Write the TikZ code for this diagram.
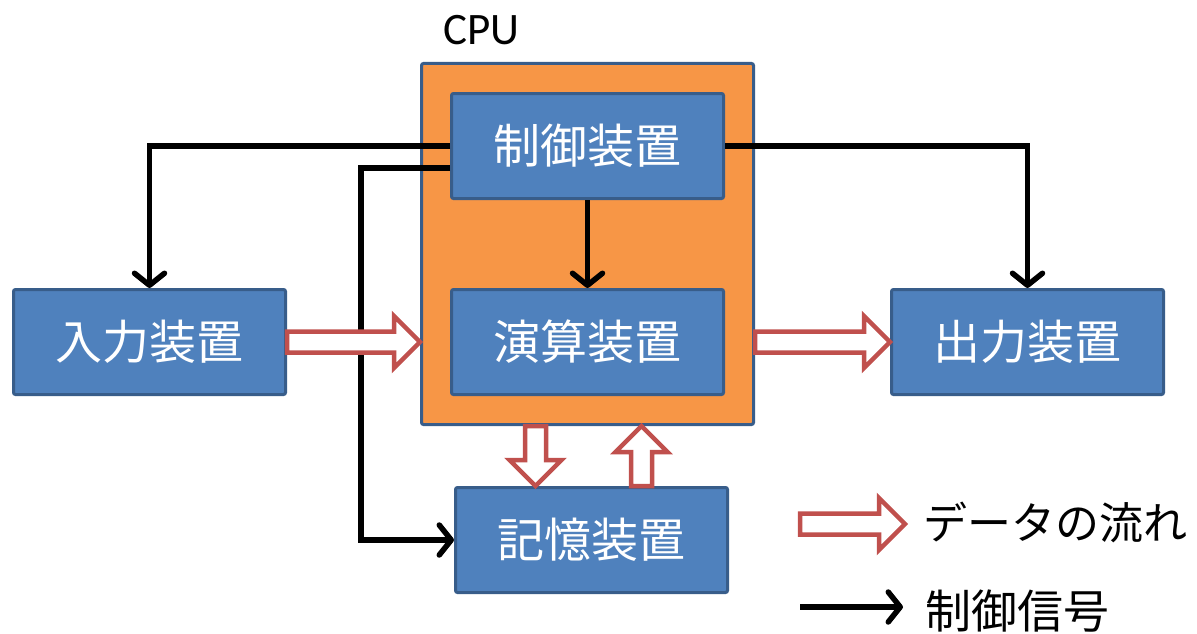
\documentclass[tikz,border=0pt]{standalone}
\usepackage{fontspec}
\setmainfont{Carlito}
\newfontfamily\jpfont{Noto Sans CJK JP}
\usetikzlibrary{calc}
\usetikzlibrary{positioning}
\usetikzlibrary{fit,backgrounds,arrows.meta}
\definecolor{unitblue}{RGB}{79,129,189}
\definecolor{unitedge}{RGB}{56,93,138}
\definecolor{cpuorange}{RGB}{247,150,70}
\definecolor{flowred}{RGB}{192,80,77}
\tikzset{
  unit/.style={fill=unitblue, draw=unitedge, line width=3pt, rounded corners=2pt,
    minimum width=272pt, minimum height=105pt, text=white,
    font=\jpfont\fontsize{47}{52}\selectfont},
  signal/.style={line width=5.5pt,
    -{Straight Barb[length=12pt,width=30pt,line cap=round,line join=round]}},
  flow/.style={draw=flowred, line width=4.5pt, fill=white, line join=miter},
  key/.style={inner sep=0pt, font=\jpfont\fontsize{46}{50}\selectfont},
}
% hollow block arrow from #1 to #2
\newcommand{\dataflow}[2]{%
  \coordinate (fa) at (#1);
  \coordinate (fb) at (#2);
  \coordinate (fc) at ($(fb)!26pt!(fa)$);
  \draw[flow] ($(fa)!10.5pt!90:(fb)$) -- ($(fc)!10.5pt!-90:(fa)$) -- ($(fc)!26pt!-90:(fa)$)
    -- (fb) -- ($(fc)!26pt!90:(fa)$) -- ($(fc)!10.5pt!90:(fa)$) -- ($(fa)!10.5pt!-90:(fb)$) -- cycle;
}
\begin{document}
\begin{tikzpicture}[x=1pt, y=1pt]
  \useasboundingbox (0,0) rectangle (1197,-634);

  \node[unit] (ctrl) at (587.5,-146) {制御装置};
  \node[unit, below=88pt of ctrl] (alu) {演算装置};
  \node[unit, left=163pt of alu] (in) {入力装置};
  \node[unit, right=165pt of alu] (out) {出力装置};
  \node[unit, below=90pt of alu, xshift=4pt] (mem) {記憶装置};

  \begin{scope}[on background layer]
    \node[fill=cpuorange, draw=unitedge, line width=3pt, rounded corners=2pt,
      inner sep=28.5pt, fit=(ctrl) (alu)] (cpu) {};
  \end{scope}
  \node[font=\fontsize{45}{50}\selectfont, anchor=base west, inner sep=0pt] (cpulabel)
    at ([xshift=23pt, yshift=17pt]cpu.north west) {CPU};

  % control signals
  \draw[signal] (ctrl.west) -| (in.north);
  \draw[signal] ([yshift=-22pt]ctrl.west) -| ([xshift=-93pt]mem.west) -- (mem.west);
  \draw[signal] (ctrl.east) -| (out.north);
  \draw[signal] (ctrl.south) -- (alu.north);

  % data flow
  \dataflow{in.east}{in.east -| cpu.west}
  \dataflow{alu.east -| cpu.east}{out.west}
  \dataflow{[xshift=-52pt]cpu.south}{[xshift=-52pt]cpu.south |- mem.north}
  \dataflow{[xshift=54pt]cpu.south |- mem.north}{[xshift=54pt]cpu.south}

  % legend
  \node[key, anchor=west, font=\jpfont\fontsize{44}{50}\selectfont] (flowkey) at (923,-522) {データの流れ};
  \node[key, anchor=west] (signalkey) at (925,-611) {制御信号};
  \coordinate (flowtail) at (800,-524);
  \coordinate (flowtip) at (905,-524);
  \coordinate (signaltail) at (800,-607);
  \coordinate (signaltip) at (903,-607);
  \dataflow{flowtail}{flowtip}
  \draw[signal] (signaltail) -- (signaltip);
\end{tikzpicture}
\end{document}
